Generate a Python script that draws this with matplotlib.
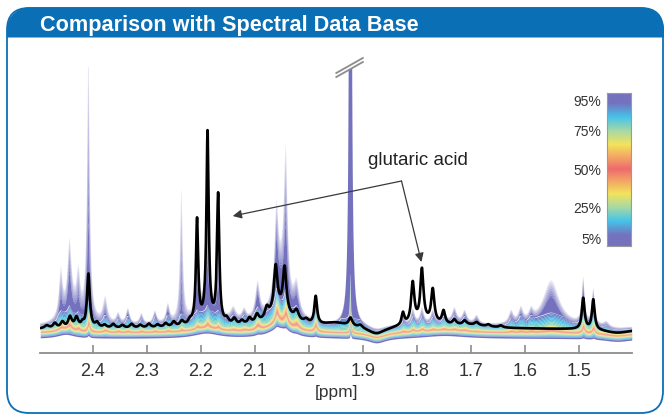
import numpy as np
import matplotlib
matplotlib.use('Agg')
import matplotlib.pyplot as plt
from matplotlib.colors import LinearSegmentedColormap
from matplotlib.patches import FancyBboxPatch, Polygon

plt.rcParams['font.family'] = ['Liberation Sans', 'DejaVu Sans']

# ---- data (ppm, intensity in arbitrary units) ----
# measured sample (black line): baseline + lorentzian lines
sample_base = 24
sample_c = [2.485, 2.470, 2.456, 2.442, 2.430, 2.419, 2.408, 2.392, 2.378, 2.362,
            2.345, 2.328, 2.312, 2.296, 2.280, 2.265, 2.250, 2.235, 2.220, 2.188,
            2.207, 2.1876, 2.168, 2.152, 2.138, 2.124, 2.110, 2.055, 2.096, 2.078,
            2.0615, 2.045, 2.023, 2.005, 1.9875, 1.950, 1.923, 1.905, 1.875, 1.790,
            1.826, 1.808, 1.791, 1.771, 1.751, 1.731, 1.712, 1.700, 1.690, 1.668,
            1.645, 1.4927, 1.474, 1.430]
sample_h = [3, 5, 6, 11, 10, 4, 54, 5, 3, 4,
            3, 4, 3, 4, 3, 4, 5, 5, 4, 6,
            103, 188, 128, 5, 6, 4, 6, 18, 8, 10,
            44, 44, 10, 4, 28, 5, 8, 3, -7, 6,
            12, 40, 52, 33, 13, 5, 4, 3, 3, 2,
            2, 31, 30, -4]
sample_w = [0.005, 0.004, 0.004, 0.004, 0.004, 0.003, 0.003, 0.004, 0.004, 0.004,
            0.004, 0.004, 0.004, 0.004, 0.004, 0.004, 0.004, 0.004, 0.004, 0.025,
            0.0025, 0.0025, 0.0025, 0.004, 0.004, 0.004, 0.004, 0.025, 0.004, 0.004,
            0.0038, 0.0038, 0.005, 0.005, 0.003, 0.03, 0.004, 0.005, 0.02, 0.04,
            0.003, 0.0035, 0.0035, 0.0035, 0.0035, 0.004, 0.004, 0.04, 0.004, 0.004,
            0.004, 0.003, 0.003, 0.03]

# spectral data base: percentile spectra
db_levels = [5, 25, 50, 75, 95]
db_base = [16, 18.5, 20.5, 22.5, 25.5]
db_base_max = 27
hump_c = [2.45, 2.19, 2.055, 1.875, 1.75, 1.43]
hump_h = [4, 5, 10, -5, 3, -3]
hump_w = [0.02, 0.03, 0.025, 0.02, 0.05, 0.03]

db_c = [2.459, 2.443, 2.4266, 2.408, 2.377, 2.353, 2.335, 2.310, 2.285, 2.261,
        2.236, 2.207, 2.188, 2.168, 2.140, 2.120, 2.095, 2.060, 2.043, 2.023,
        1.988, 1.9233, 1.826, 1.808, 1.791, 1.771, 1.751, 1.731, 1.712, 1.690,
        1.626, 1.608, 1.589, 1.552, 1.4927, 1.474, 1.450,
        2.440, 2.408, 2.188, 2.052]
db_w = [0.004, 0.004, 0.004, 0.0025, 0.005, 0.004, 0.004, 0.004, 0.004, 0.004,
        0.003, 0.003, 0.003, 0.003, 0.006, 0.005, 0.005, 0.004, 0.004, 0.006,
        0.003, 0.001, 0.004, 0.004, 0.004, 0.004, 0.004, 0.005, 0.005, 0.005,
        0.005, 0.005, 0.005, 0.018, 0.003, 0.003, 0.006,
        0.012, 0.006, 0.016, 0.014]
db_h05 = [0, 0, 0, 2, 0, 0, 0, 0, 0, 0,
          0, 0, 0, 0, 0, 0, 1, 2, 2, 1,
          1, 6, 0, 0, 0, 0, 0, 0, 0, 0,
          0, 0, 0, 0, 1, 1, 0,
          0, 0, 0, 0]
db_h25 = [1, 2, 1, 4, 1, 0, 0, 0, 0, 0,
          0, 1, 1, 1, 0, 0, 2, 5, 5, 2,
          3, 12, 0, 1, 1, 0, 0, 0, 0, 0,
          0, 0, 0, 1, 3, 3, 0,
          0, 0, 0, 0]
db_h50 = [2, 4, 2, 8, 2, 1, 1, 1, 1, 1,
          1, 2, 3, 2, 1, 1, 4, 10, 10, 4,
          6, 22, 1, 2, 2, 1, 1, 1, 1, 0,
          1, 1, 1, 2, 6, 5, 0,
          0, 0, 0, 0]
db_h75 = [4, 8, 4, 15, 3, 2, 2, 2, 2, 2,
          3, 4, 6, 4, 2, 2, 8, 18, 18, 8,
          12, 45, 2, 3, 3, 2, 2, 2, 2, 1,
          2, 2, 2, 6, 12, 10, 1,
          1, 2, 2, 2]
db_h95 = [20, 35, 18, 80, 12, 7, 12, 7, 10, 14,
          20, 30, 40, 30, 8, 8, 25, 55, 70, 20,
          18, 3000, 6, 10, 10, 8, 8, 10, 9, 6,
          8, 10, 8, 30, 35, 28, 3,
          12, 20, 16, 25]
db_hmax = [45, 60, 40, 240, 25, 10, 15, 10, 12, 18,
           130, 60, 80, 60, 12, 10, 35, 80, 140, 30,
           22, 3000, 10, 15, 15, 12, 12, 14, 12, 8,
           12, 14, 10, 45, 45, 35, 5,
           18, 30, 22, 35]

ticks = [2.4, 2.3, 2.2, 2.1, 2.0, 1.9, 1.8, 1.7, 1.6, 1.5]
cbar_ticks = [5, 25, 50, 75, 95]

# ---- helpers ----
def lorentz_sum(x, base, cs, hs, ws):
    y = np.full_like(x, float(base))
    for c, h, w in zip(cs, hs, ws):
        y += h / (1 + ((x - c) / w) ** 2)
    return y

cmap = LinearSegmentedColormap.from_list('pct', [
    (0.00, '#7472be'), (0.07, '#7472be'), (0.16, '#45c3ea'), (0.25, '#a6d9a6'),
    (0.34, '#f4e35c'), (0.42, '#f3a764'), (0.50, '#ee6a6e'), (0.58, '#f3a764'),
    (0.66, '#f4e35c'), (0.75, '#a6d9a6'), (0.84, '#45c3ea'), (0.93, '#7472be'),
    (1.00, '#7472be')])

x = np.linspace(1.403, 2.497, 8000)
shape = lorentz_sum(x, 0, hump_c, hump_h, hump_w)
quant = [lorentz_sum(x, b, db_c, h, db_w) + shape
         for b, h in zip(db_base, [db_h05, db_h25, db_h50, db_h75, db_h95])]
qmax = lorentz_sum(x, db_base_max, db_c, db_hmax, db_w) + shape
sample = lorentz_sum(x, sample_base, sample_c, sample_h, sample_w)

fig = plt.figure(figsize=(6.65, 4.15), dpi=100)

# ---- frame and header ----
bg = fig.add_axes([0, 0, 1, 1], zorder=-1)
bg.set_xlim(0, 665)
bg.set_ylim(415, 0)
bg.axis('off')
blue = '#0b6fb6'
bg.add_patch(FancyBboxPatch((7, 8), 656, 405, boxstyle='round,pad=0,rounding_size=22',
                            fc='white', ec=blue, lw=1.3))
r = 22
t = np.linspace(0, np.pi / 2, 30)
x0, x1, y0, y1 = 7, 664, 7.5, 37.5
pts = [(x0, y1)]
pts += list(zip(x0 + r - r * np.cos(t), y0 + r - r * np.sin(t)))
pts += list(zip(x1 - r + r * np.sin(t), y0 + r - r * np.cos(t)))
pts += [(x1, y1)]
bg.add_patch(Polygon(pts, closed=True, fc=blue, ec='none'))
bg.text(40, 30.5, 'Comparison with Spectral Data Base', color='white',
        fontsize=15.6, fontweight='bold', va='baseline', ha='left')

# ---- main spectrum axes ----
ax = fig.add_axes([40.3 / 665, 62 / 415, 591.4 / 665, 286 / 415])
ax.patch.set_alpha(0)
ax.set_xlim(2.497, 1.403)
ax.set_ylim(0, 286)

# percentile bands, colour gradient limited to a few units above each curve
n = 10
step = 1.3
ax.fill_between(x, quant[0] - 1.5, quant[0], color=cmap(0.0), lw=0)
for k in range(len(db_levels) - 1):
    lo, hi = quant[k], quant[k + 1]
    d = hi - lo
    bounds = [lo + np.minimum(d * i / n, step * i) for i in range(n)] + [hi]
    for i in range(n):
        p = db_levels[k] + (db_levels[k + 1] - db_levels[k]) * (i + 0.5) / n
        ax.fill_between(x, bounds[i], bounds[i + 1], color=cmap(p / 100), lw=0)
for i in range(n):
    a = 0.85 * (1 - i / n) + 0.05
    lo = quant[-1] + (qmax - quant[-1]) * i / n
    hi = quant[-1] + (qmax - quant[-1]) * (i + 1) / n
    ax.fill_between(x, lo, hi, color='#7472be', alpha=a, lw=0)

ax.plot(x, sample, color='black', lw=1.9, zorder=5)

for s in ['top', 'left', 'right']:
    ax.spines[s].set_visible(False)
ax.spines['bottom'].set_color('#8c8c8c')
ax.spines['bottom'].set_linewidth(1.3)
ax.set_yticks([])
ax.set_xticks(ticks)
ax.set_xticklabels(['%g' % v for v in ticks])
ax.tick_params(axis='x', direction='in', length=6, width=1.2, color='#8c8c8c',
               labelsize=13, labelcolor='#333333', pad=7)
ax.set_xlabel('[ppm]', fontsize=12.5, color='#333333', labelpad=4)

# axis break on the clipped peak
bx = [1.9494, 1.9003]
ax.add_patch(Polygon([(bx[0], 276), (bx[1], 291), (bx[1], 295), (bx[0], 280)],
                     closed=True, fc='white', ec='none', zorder=8, clip_on=False))
ax.plot(bx, [276, 291], color='#8c8c8c', lw=1.3, zorder=9, clip_on=False)
ax.plot(bx, [280, 295], color='#8c8c8c', lw=1.3, zorder=9, clip_on=False)

# annotation
ax.text(1.7993, 193, 'glutaric acid', fontsize=13.5, color='#222222',
        ha='center', va='center')
arrow = dict(arrowstyle='-|>', color='#3a3a3a', lw=0.9, mutation_scale=13,
             shrinkA=0, shrinkB=0)
ax.annotate('', xy=(2.141, 137), xytext=(1.8288, 172), arrowprops=arrow, zorder=10)
ax.annotate('', xy=(1.792, 91), xytext=(1.8288, 172), arrowprops=arrow, zorder=10)

# ---- percentile colour bar ----
cax = fig.add_axes([606.7 / 665, (415 - 245.7) / 415, 24 / 665, 153 / 415])
cax.imshow(np.linspace(0, 100, 256)[:, None], aspect='auto', cmap=cmap,
           origin='lower', extent=(0, 1, 0, 100))
cax.set_xticks([])
cax.set_yticks(cbar_ticks)
cax.set_yticklabels(['%d%%' % v for v in cbar_ticks])
cax.tick_params(axis='y', length=0, pad=4, labelsize=10, labelcolor='#333333')
for s in cax.spines.values():
    s.set_color('#9a9a9a')
    s.set_linewidth(0.8)

fig.savefig('out.png', dpi=100)
